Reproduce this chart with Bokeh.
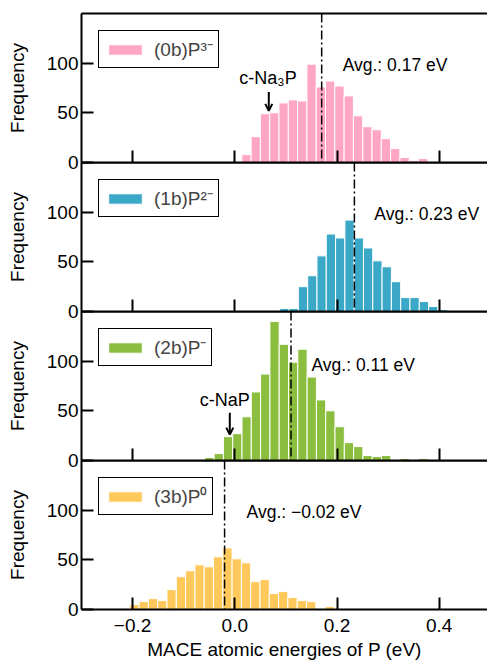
from bokeh.plotting import figure
from bokeh.models import Range1d, FixedTicker, LinearAxis, Span, Legend, LegendItem, Arrow, OpenHead
from bokeh.layouts import column
from bokeh.embed import file_html
from bokeh.resources import INLINE
from bokeh.core.properties import value

FONT = "Liberation Sans"

# ---- data ----
bin_width = 0.0182
bin_start = [0.0137, 0.088, -0.0587, -0.2055]
counts_0b = [8, 26, 49, 50, 60, 63, 62, 99, 76, 82, 77, 67, 47, 36, 33, 24, 14, 5, 2, 4]
counts_1b = [3, 3, 25, 36, 56, 78, 74, 92, 74, 64, 51, 45, 30, 14, 14, 10, 5, 2]
counts_2b = [3, 7, 24, 27, 44, 69, 87, 140, 117, 99, 112, 84, 61, 50, 34, 18, 14, 5, 4, 5, 0, 2, 0, 2]
counts_3b = [5, 8, 11, 9, 20, 33, 39, 45, 43, 53, 62, 51, 47, 28, 30, 16, 18, 12, 9, 8, 0, 3]
series_counts = [counts_0b, counts_1b, counts_2b, counts_3b]
series_labels = ["(0b)P\u00b3\u207b", "(1b)P\u00b2\u207b", "(2b)P\u207b", "(3b)P\u2070"]
colors = ["#ffa6c4", "#3ba8c8", "#8bbd3f", "#ffc85a"]

averages = [0.17, 0.234, 0.11, -0.02]
avg_labels = ["Avg.: 0.17 eV", "Avg.: 0.23 eV", "Avg.: 0.11 eV", "Avg.: \u22120.02 eV"]
avg_text_x = [0.211, 0.273, 0.150, 0.023]
avg_text_y = [98.2, 97.8, 96.6, 98.0]

ann_panel = [0, 2]
ann_text = ["c-Na\u2083P", "c-NaP"]
ann_text_x = [0.065, -0.0196]
ann_text_y = [85, 61]
ann_arrow_x = [0.0665, -0.0098]
ann_arrow_y0 = [71, 48]
ann_arrow_y1 = [52, 26]

x_ticks = [-0.2, 0.0, 0.2, 0.4]
x_tick_labels = ["\u22120.2", "0.0", "0.2", "0.4"]
y_ticks = [0, 50, 100]
x_lim = (-0.3, 0.4945)
y_lim = (0, 150)
xlabel = "MACE atomic energies of P (eV)"
ylabel = "Frequency"

OVERLAP = 12


def style_axis(ax):
    ax.axis_line_width = 2
    ax.axis_line_color = "black"
    ax.major_tick_line_width = 2
    ax.major_tick_line_color = "black"
    ax.major_tick_in = 12
    ax.major_tick_out = 0
    ax.minor_tick_line_color = None
    ax.major_label_text_font = FONT
    ax.major_label_text_font_size = "19px"
    ax.major_label_text_color = "black"
    ax.axis_label_text_font = FONT
    ax.axis_label_text_font_size = "19px"
    ax.axis_label_text_font_style = "normal"
    ax.axis_label_text_color = "black"


def hide_labels(ax):
    ax.major_label_text_font_size = "0px"
    ax.major_label_text_color = None
    ax.major_label_standoff = 0
    ax.axis_label = None
    ax.axis_label_text_color = None
    ax.axis_label_standoff = 0


figs = []
n = len(series_counts)
for i in range(n):
    last = i == n - 1
    p = figure(frame_width=406, frame_height=149,
               x_range=Range1d(*x_lim), y_range=Range1d(*y_lim),
               output_backend="svg", toolbar_location=None,
               min_border_left=81, min_border_right=0,
               min_border_top=13 if i == 0 else 0,
               min_border_bottom=55 if last else OVERLAP)
    if i > 0:
        p.margin = (-OVERLAP, 0, 0, 0)
    p.outline_line_color = None
    p.grid.grid_line_color = None
    p.background_fill_color = None
    p.border_fill_color = None

    counts = series_counts[i]
    centers = [bin_start[i] + (k + 0.5) * bin_width for k in range(len(counts))]
    r = p.vbar(x=centers, width=bin_width, top=counts, bottom=0,
               fill_color=colors[i], line_color="white", line_width=1)

    # axes
    ya = p.yaxis[0]
    style_axis(ya)
    ya.ticker = FixedTicker(ticks=y_ticks)
    ya.axis_label = ylabel
    ya.major_label_standoff = 3
    ya.axis_label_standoff = 16

    xa = p.xaxis[0]
    style_axis(xa)
    xa.ticker = FixedTicker(ticks=x_ticks)
    if last:
        xa.major_label_overrides = {t: l for t, l in zip(x_ticks, x_tick_labels)}
        xa.axis_label = xlabel
        xa.major_label_standoff = 9
        xa.axis_label_standoff = 4
    else:
        hide_labels(xa)

    top = LinearAxis(ticker=FixedTicker(ticks=[]))
    style_axis(top)
    top.major_tick_in = 0
    hide_labels(top)
    p.add_layout(top, "above")

    # average line and text
    p.add_layout(Span(location=averages[i], dimension="height", line_color="black",
                      line_width=1.5, line_dash="9 3 2 3"))
    p.text(x=[avg_text_x[i]], y=[avg_text_y[i]], text=[avg_labels[i]],
           text_font=value(FONT), text_font_size=value("17.5px"),
           text_baseline="middle", text_align="left", text_color="black")

    # crystal reference annotations
    for j, pi in enumerate(ann_panel):
        if pi == i:
            p.text(x=[ann_text_x[j]], y=[ann_text_y[j]], text=[ann_text[j]],
                   text_font=value(FONT), text_font_size=value("18px"),
                   text_baseline="middle", text_align="center", text_color="black")
            p.add_layout(Arrow(end=OpenHead(size=7, line_width=2, line_color="black"),
                               x_start=ann_arrow_x[j], y_start=ann_arrow_y0[j],
                               x_end=ann_arrow_x[j], y_end=ann_arrow_y1[j],
                               line_width=2, line_color="black"))

    legend = Legend(items=[LegendItem(label=series_labels[i], renderers=[r])],
                    location="top_left", margin=17, padding=5, spacing=0,
                    glyph_width=42, glyph_height=13, label_standoff=8, label_height=26,
                    label_text_font=FONT, label_text_font_size="19px",
                    border_line_color="black", border_line_width=1.5, border_line_alpha=1,
                    background_fill_color="white", background_fill_alpha=1)
    p.add_layout(legend)
    figs.append(p)

layout = column(*figs, spacing=0)
open("out.html", "w").write(file_html(layout, INLINE))
